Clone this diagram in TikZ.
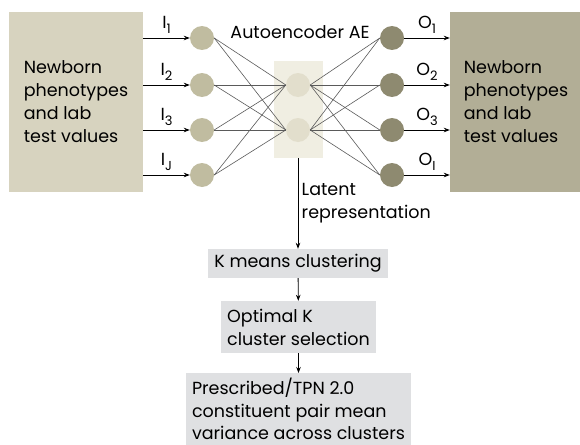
\documentclass[tikz,border=0pt]{standalone}
\usepackage{fontspec}
\setmainfont{Poppins}
\usetikzlibrary{arrows.meta}

\definecolor{inbox}{RGB}{215,211,191}
\definecolor{outbox}{RGB}{178,174,150}
\definecolor{latbox}{RGB}{240,238,226}
\definecolor{innode}{RGB}{192,188,160}
\definecolor{latnode}{RGB}{226,222,204}
\definecolor{outnode}{RGB}{142,138,112}
\definecolor{flowgray}{RGB}{223,224,226}
\definecolor{linkgray}{RGB}{90,90,90}

\tikzset{
  neuron/.style={circle, minimum size=24pt, inner sep=0pt},
  flowbox/.style={fill=flowgray, inner xsep=6pt},
  link/.style={draw=linkgray, line width=0.6pt},
}
\newcommand{\lowidx}[1]{\raisebox{-0.45ex}{\fontsize{13}{13}\selectfont #1}}

\begin{document}
\begin{tikzpicture}[x=1pt, y=-1pt, >={Stealth[length=6pt, width=4.5pt]},
  font=\fontsize{17.5}{23}\selectfont]
  \useasboundingbox (0,0) rectangle (580,444);
  \clip (0,0) rectangle (580,444);
  % data boxes on both sides
  \node [fill=inbox, minimum width=134pt, minimum height=180pt, align=left] (datain) at (76,102)
    {Newborn\\phenotypes\\and lab\\test values};
  \node [fill=outbox, minimum width=132pt, minimum height=180pt, align=left] (dataout) at (516,102)
    {Newborn\\phenotypes\\and lab\\test values};
  % autoencoder
  \node [fill=latbox, minimum width=49pt, minimum height=97pt] (latent) at (298.5,109.5) {};
  \node (aelabel) at (300,32) {Autoencoder AE};
  \foreach \i/\y in {1/38, 2/85, 3/130, 4/175}
  {
    \node [neuron, fill=innode] (in\i) at (202,\y) {};
    \node [neuron, fill=outnode] (out\i) at (392,\y) {};
  }
  \node [neuron, fill=latnode] (lat1) at (298,85) {};
  \node [neuron, fill=latnode] (lat2) at (298,130) {};
  \foreach \i in {1,...,4}
    \foreach \j in {1,2}
    {
      \draw [link] (in\i.east) -- (lat\j.west);
      \draw [link] (lat\j.east) -- (out\i.west);
    }
  % inputs and outputs
  \foreach \i/\s/\t in {1/1/1, 2/2/2, 3/3/3, 4/J/I}
  {
    \draw [->, line width=0.8pt] (datain.east |- in\i) -- (in\i.west)
      node [midway, above, yshift=1pt] {I\lowidx{\s}};
    \draw [->, line width=0.8pt] (out\i.east) -- (dataout.west |- out\i)
      node [midway, above, yshift=1pt] {O\lowidx{\t}};
  }
  % clustering steps
  \node [flowbox, minimum width=178pt, minimum height=29pt] (kmeans) at (298,263.5) {K means clustering};
  \node [flowbox, minimum width=155pt, minimum height=52pt, align=left] (optk) at (298.5,327)
    {Optimal K\\cluster selection};
  \node [flowbox, minimum width=225pt, minimum height=72pt, anchor=north, align=left, inner ysep=2pt,
    font=\fontsize{17.5}{22.5}\selectfont] (pairvar) at (298.5,373)
    {Prescribed/TPN 2.0\\constituent pair mean\\variance across clusters};
  \draw [->, line width=0.8pt] (latent.south -| kmeans) -- (kmeans.north)
    node [pos=0.5, right, align=left] {Latent\\representation};
  \draw [->, line width=0.8pt] (kmeans) -- (optk);
  \draw [->, line width=0.8pt] (optk) -- (pairvar);
\end{tikzpicture}
\end{document}
